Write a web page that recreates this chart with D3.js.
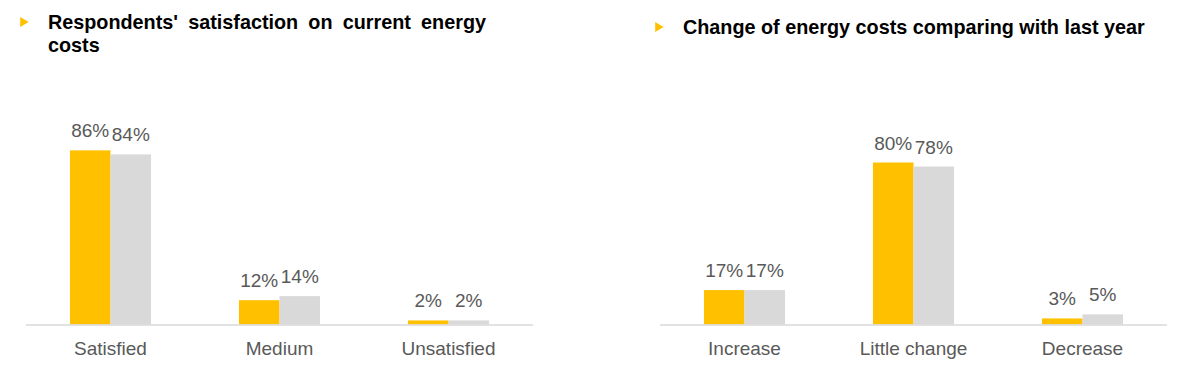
<!DOCTYPE html>
<html>
<head>
<meta charset="utf-8">
<script src="https://cdn.jsdelivr.net/npm/d3@7"></script>
<style>
  body { margin: 0; background: #fff; }
  svg { display: block; font-family: "Liberation Sans", Arial, sans-serif; }
</style>
</head>
<body>
<svg id="chart" width="1200" height="385"></svg>
<script>
// data
const satisfactionCategories = ['Satisfied', 'Medium', 'Unsatisfied'];
const satisfactionYellow = [86, 12, 2];
const satisfactionGray = [84, 14, 2];

const changeCategories = ['Increase', 'Little change', 'Decrease'];
const changeYellow = [17, 80, 3];
const changeGray = [17, 78, 5];

const seriesColors = ['#FFC000', '#D9D9D9'];

const svg = d3.select('#chart');
const y = d3.scaleLinear().domain([0, 100]).range([324.5, 122]);

function drawTitle(x, yPos, lines, justifyWidth) {
  svg.append('path')
    .attr('d', d3.symbol().type(d3.symbolTriangle).size(42)())
    .attr('transform', `translate(${x - 25},${yPos - 7}) rotate(90)`)
    .attr('fill', '#FFC000');
  lines.forEach((line, i) => {
    const t = svg.append('text')
      .attr('x', x)
      .attr('y', yPos + i * 23)
      .attr('font-size', 19.8)
      .attr('font-weight', 'bold')
      .attr('fill', '#000')
      .text(line);
    if (justifyWidth && i < lines.length - 1) {
      const natural = t.node().getComputedTextLength();
      const gaps = line.split(' ').length - 1;
      t.attr('word-spacing', (justifyWidth - natural) / gaps);
    }
  });
}

function barChart(x0, x1, categories, yellow, gray) {
  const x = d3.scaleBand().domain(categories).range([x0, x1]);
  const inner = d3.scaleBand().domain([0, 1]).range([0, x.bandwidth()]).paddingOuter(1.084);

  const g = svg.append('g');
  const groups = g.selectAll('g.cat')
    .data(categories.map((c, i) => ({ c, vals: [yellow[i], gray[i]] })))
    .enter().append('g')
    .attr('transform', d => `translate(${x(d.c)},0)`);

  groups.selectAll('rect')
    .data(d => d.vals.map((v, k) => ({ v, k })))
    .enter().append('rect')
    .attr('x', d => inner(d.k))
    .attr('width', inner.bandwidth())
    .attr('y', d => y(d.v))
    .attr('height', d => y(0) - y(d.v))
    .attr('fill', d => seriesColors[d.k]);

  groups.selectAll('text.val')
    .data(d => d.vals.map((v, k) => ({ v, k })))
    .enter().append('text')
    .attr('class', 'val')
    .attr('x', d => inner(d.k) + inner.bandwidth() / 2)
    .attr('y', d => y(d.v) - 13)
    .attr('text-anchor', 'middle')
    .attr('font-size', 19)
    .attr('fill', '#595959')
    .text(d => d.v + '%');

  g.append('line')
    .attr('x1', x0).attr('x2', x1)
    .attr('y1', y(0) + 0.5).attr('y2', y(0) + 0.5)
    .attr('stroke', '#D9D9D9')
    .attr('stroke-width', 1.5);

  const axis = d3.axisBottom(x).tickSize(0).tickPadding(0);
  g.append('g')
    .attr('transform', `translate(0,${y(0)})`)
    .call(axis)
    .call(a => a.select('.domain').remove())
    .selectAll('text')
    .attr('dy', null)
    .attr('y', 30)
    .attr('font-size', 19)
    .attr('font-family', '"Liberation Sans", Arial, sans-serif')
    .attr('fill', '#595959');
}

drawTitle(48, 29, ["Respondents' satisfaction on current energy", 'costs'], 438);
drawTitle(683, 34, ['Change of energy costs comparing with last year']);

barChart(26, 533, satisfactionCategories, satisfactionYellow, satisfactionGray);
barChart(660, 1167, changeCategories, changeYellow, changeGray);
</script>
</body>
</html>
